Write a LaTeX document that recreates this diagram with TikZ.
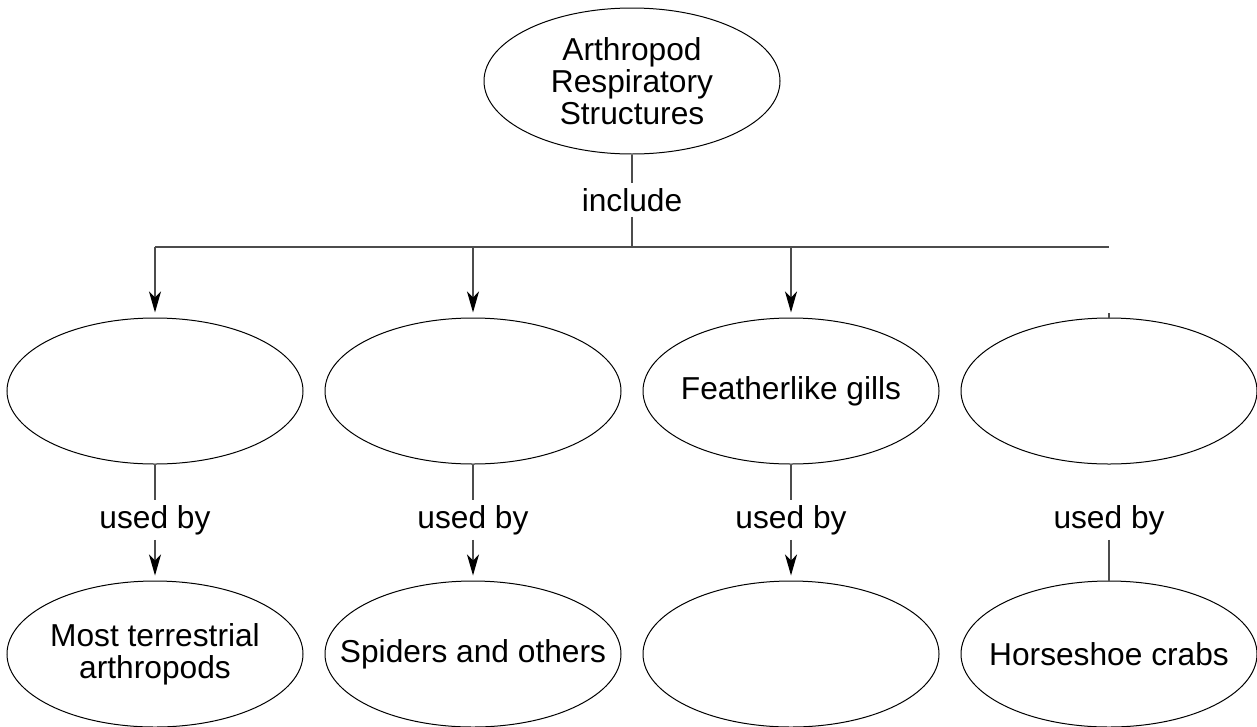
\documentclass[tikz,border=0pt]{standalone}
\usepackage{fontspec}
\setmainfont{Liberation Sans}
\usetikzlibrary{arrows.meta,positioning,shapes.geometric}
\tikzset{every node/.style={ % Same text size everywhere
            font=\fontsize{31.7}{32}\selectfont},
        bubble/.style={ % Ellipse of each concept, all the same size
            ellipse, draw, line width=1pt,
            minimum width=296pt, minimum height=146pt,
            inner xsep=-40pt, inner ysep=0pt, align=center},
        link/.style={ % Linking words on the connectors
            inner xsep=4pt, inner ysep=5pt},
        wire/.style={ % Plain connector, no tip
            draw, black!70, line width=1.3pt},
        every edge/.style={ % Connector with arrow tip
            draw, black!70, line width=1.3pt,
            -{Stealth[length=21pt,width=12pt,inset=6pt,color=black]},
            shorten >=5pt}
        }

\begin{document}
\begin{tikzpicture}[x=1pt,y=-1pt]
    \useasboundingbox (0,0) rectangle (1257,726);

    \node[bubble] (top) at (632,81) {Arthropod\\Respiratory\\Structures};
    \node[link]   (inc) at (632,200) {include};

    \coordinate (hub) at (632,247);
    \coordinate (ha)  at (155,247);
    \coordinate (hb)  at (473,247);
    \coordinate (hc)  at (791,247);
    \coordinate (hd)  at (1109,247);
    \coordinate (tick) at (1109,313);

    \node[bubble] (a) at (155,391)  {};
    \node[bubble] (b) at (473,391)  {};
    \node[bubble] (c) at (791,391)  {Featherlike gills};
    \node[bubble] (d) at (1109,391) {};

    \node[link] (ua) at (155,520)  {used by};
    \node[link] (ub) at (473,520)  {used by};
    \node[link] (uc) at (791,520)  {used by};
    \node[link] (ud) at (1109,520) {used by};

    \node[bubble] (a2) at (155,654)  {Most terrestrial\\arthropods};
    \node[bubble] (b2) at (473,654)  {Spiders and others};
    \node[bubble] (c2) at (791,654)  {};
    \node[bubble] (d2) at (1109,654) {Horseshoe crabs};

    \draw[wire] (top) -- (inc);
    \draw[wire] (inc) -- (hub);
    \draw[wire] (ha) -- (hd);

    \draw (ha) edge (a) (hb) edge (b) (hc) edge (c);
    \draw[wire] (tick) -- (d);

    \draw[wire] (a) -- (ua);
    \draw[wire] (b) -- (ub);
    \draw[wire] (c) -- (uc);

    \draw (ua) edge (a2) (ub) edge (b2) (uc) edge (c2);
    \draw[wire] (ud) -- (d2);
\end{tikzpicture}
\end{document}
